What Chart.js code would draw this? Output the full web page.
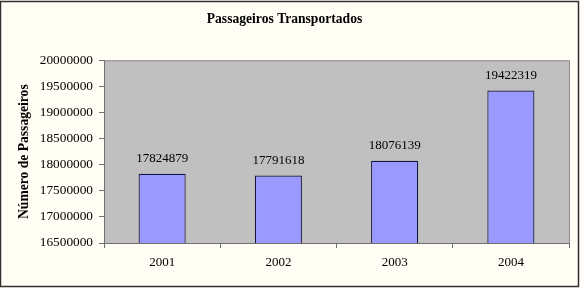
<!DOCTYPE html>
<html>
<head>
<meta charset="utf-8">
<script src="https://cdn.jsdelivr.net/npm/chart.js@4/dist/chart.umd.min.js"></script>
<style>
  html, body { margin: 0; padding: 0; background: #FFFDF4; }
  #chartBox { width: 582px; height: 288px; }
</style>
</head>
<body>
<div id="chartBox"><canvas id="mainChartCanvas" width="582" height="288"></canvas></div>
<script>
// data
const years = ['2001', '2002', '2003', '2004'];
const passengers = [17824879, 17791618, 18076139, 19422319];
const yMin = 16500000;
const yMax = 20000000;
const yStep = 500000;

const serif = "'Liberation Serif', 'Times New Roman', serif";

// page background, plot area and outer frame
const backdrop = {
    id: 'backdrop',
    beforeDraw(chart) {
        const ctx = chart.ctx;
        const a = chart.chartArea;
        ctx.save();
        ctx.fillStyle = '#FFFDF4';
        ctx.fillRect(0, 0, chart.width, chart.height);
        ctx.fillStyle = '#C0C0C0';
        ctx.fillRect(a.left, a.top, a.right - a.left, a.bottom - a.top);
        ctx.strokeStyle = '#8C8C8C';
        ctx.lineWidth = 1;
        ctx.strokeRect(a.left + 0.5, a.top + 0.5, a.right - a.left, a.bottom - a.top);
        ctx.restore();
    },
    afterDraw(chart) {
        const ctx = chart.ctx;
        ctx.save();
        ctx.strokeStyle = '#303030';
        ctx.lineWidth = 1.5;
        ctx.strokeRect(0.5, 1.5, 578, 285);
        ctx.restore();
    }
};

// value labels above each bar
const valueLabels = {
    id: 'valueLabels',
    afterDatasetsDraw(chart) {
        const ctx = chart.ctx;
        const meta = chart.getDatasetMeta(0);
        ctx.save();
        ctx.font = '13px ' + serif;
        ctx.fillStyle = '#000';
        ctx.textAlign = 'center';
        ctx.textBaseline = 'middle';
        meta.data.forEach((bar, i) => {
            ctx.fillText(String(passengers[i]), bar.x, bar.y - 15);
        });
        ctx.restore();
    }
};

const mainChartConfig = {
    type: 'bar',
    data: {
        labels: years,
        datasets: [{
            label: 'Passageiros',
            data: passengers,
            backgroundColor: '#9999FF',
            borderColor: '#14143C',
            borderWidth: 1.2,
            barPercentage: 0.405,
            categoryPercentage: 1
        }]
    },
    options: {
        responsive: false,
        animation: false,
        layout: { padding: { left: 0, right: 13, top: 0, bottom: 0 } },
        scales: {
            x: {
                grid: {
                    offset: true,
                    drawOnChartArea: false,
                    drawTicks: true,
                    tickLength: 5,
                    color: '#707070'
                },
                border: { color: '#707070' },
                ticks: {
                    color: '#000',
                    font: { family: serif, size: 13 },
                    padding: 7
                },
                afterFit(scale) { scale.height = 45; }
            },
            y: {
                min: yMin,
                max: yMax,
                grid: {
                    drawOnChartArea: false,
                    drawTicks: true,
                    tickLength: 5,
                    color: '#707070'
                },
                border: { color: '#707070' },
                ticks: {
                    stepSize: yStep,
                    color: '#000',
                    font: { family: serif, size: 13.3 },
                    padding: 6,
                    callback: v => String(v)
                },
                title: {
                    display: true,
                    text: 'Número de Passageiros',
                    color: '#000',
                    font: { family: serif, size: 13.6, weight: 'bold' },
                    padding: { top: 16, bottom: 0 }
                },
                afterFit(scale) { scale.width = 104; }
            }
        },
        plugins: {
            legend: { display: false },
            tooltip: { enabled: false },
            title: {
                display: true,
                text: 'Passageiros Transportados',
                color: '#000',
                font: { family: serif, size: 13.6, weight: 'bold' },
                padding: { top: 11, bottom: 33 }
            }
        }
    },
    plugins: [backdrop, valueLabels]
};

const mainChart = new Chart(
    document.getElementById('mainChartCanvas').getContext('2d'),
    mainChartConfig
);
</script>
</body>
</html>
